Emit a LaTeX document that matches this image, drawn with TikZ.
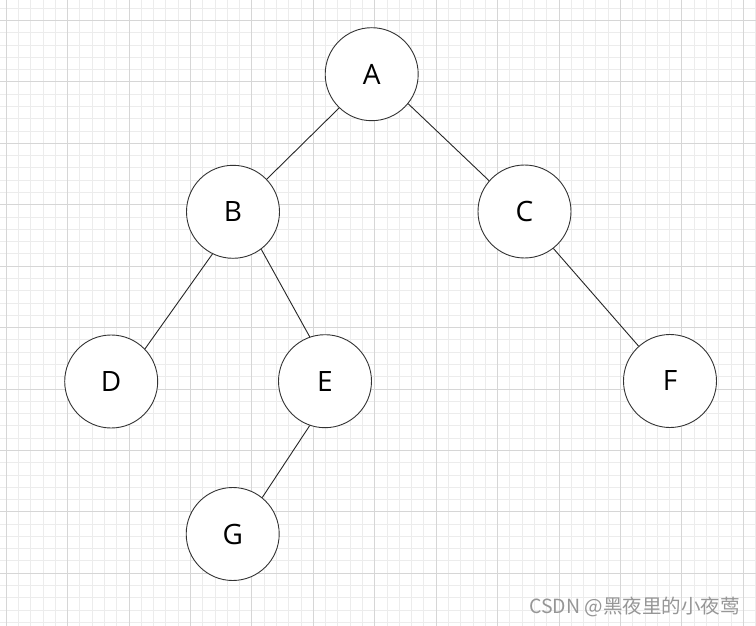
\documentclass[tikz,border=0pt]{standalone}
\usepackage{fontspec}
\setmainfont{Open Sans}
\newfontfamily\cjk{Noto Sans CJK SC}
\definecolor{minorgrid}{RGB}{236,236,236}
\definecolor{majorgrid}{RGB}{214,214,214}
\definecolor{wmgray}{RGB}{150,150,150}
\begin{document}
\begin{tikzpicture}[x=1pt,y=-1pt,
  treenode/.style={circle, draw=black!80, line width=0.9pt, fill=white, minimum size=93pt, inner sep=0pt, font=\fontsize{28}{28}\selectfont},
  edge/.style={draw=black!85, line width=0.9pt},
  minorline/.style={draw=minorgrid, line width=1pt},
  majorline/.style={draw=majorgrid, line width=1pt},
  watermark/.style={text=wmgray, inner sep=0pt, font=\cjk\fontsize{19.5}{19.5}\selectfont}]
\useasboundingbox (0,0) rectangle (756,626);
\fill[white] (0,0) rectangle (756,626);
% grid
\foreach \i in {-6,...,56} \draw[minorline] ({67.7+12.284*\i},0) -- ({67.7+12.284*\i},626);
\foreach \i in {-2,...,50} \draw[minorline] (0,{20.5+12.284*\i}) -- (756,{20.5+12.284*\i});
\foreach \i in {-1,...,11} \draw[majorline] ({67.7+61.42*\i},0) -- ({67.7+61.42*\i},626);
\foreach \i in {0,...,10} \draw[majorline] (0,{20.5+61.42*\i}) -- (756,{20.5+61.42*\i});
% nodes
\node[treenode] (A) at (371.7,74.2) {A};
\node[treenode] (B) at (233,211.8) {B};
\node[treenode] (C) at (524.5,211.5) {C};
\node[treenode] (D) at (111.2,381.5) {D};
\node[treenode] (E) at (325,381.2) {E};
\node[treenode] (F) at (670,381) {F};
\node[treenode] (G) at (232.7,534) {G};
% edges
\draw[edge] (A.-134) -- (B.44);
\draw[edge] (A.-39) -- (C.139);
\draw[edge] (B.-116) -- (D.44);
\draw[edge] (B.-53) -- (E.109);
\draw[edge] (C.-52) -- (F.132);
\draw[edge] (E.-109) -- (G.51);
% watermark
\node[watermark, anchor=base west] (wm) at (529,613.5) {CSDN @黑夜里的小夜莺};
\end{tikzpicture}
\end{document}
